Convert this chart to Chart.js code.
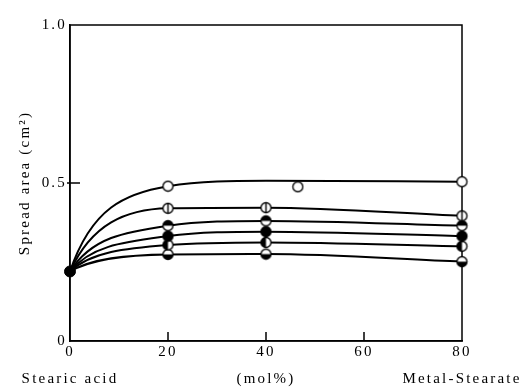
<!DOCTYPE html>
<html>
<head>
<meta charset="utf-8">
<script src="https://cdn.jsdelivr.net/npm/chart.js@4/dist/chart.umd.min.js"></script>
<style>
body { margin: 0; background: #fff; }
#wrap { width: 529px; height: 390px; }
</style>
</head>
<body>
<div id="wrap"><canvas id="spread"></canvas></div>
<script>
// mol% of metal stearate in the mixed film
var molPct = [0, 20, 40, 80]

// spread area (cm2), one list per curve, top to bottom
var areaOpen   = [0.22, 0.49, 0.507, 0.504]
var areaBar    = [0.22, 0.42, 0.422, 0.396]
var areaTop    = [0.22, 0.365, 0.38, 0.365]
var areaFull   = [0.22, 0.332, 0.346, 0.332]
var areaLeft   = [0.22, 0.304, 0.312, 0.300]
var areaBottom = [0.22, 0.274, 0.275, 0.251]

// the lone open circle that sits off the top curve
var strayX = [46.5]
var strayY = [0.488]

var xTickLabels = {0: ['0', 'Stearic acid'], 20: '20', 40: ['40', '(mol%)'], 60: '60', 80: ['80', 'Metal-Stearate']}
var yTickLabels = {0: '0', 0.5: '0.5', 1: '1.0'}

var serif = 'Liberation Serif'
var curveCount = 6

function marker(kind) {
    var c = document.createElement('canvas')
    c.width = 13
    c.height = 13
    var g = c.getContext('2d')
    var r = 5
    g.beginPath()
    g.arc(6.5, 6.5, r, 0, Math.PI * 2)
    g.fillStyle = '#fff'
    g.fill()
    g.fillStyle = '#000'
    g.beginPath()
    if (kind == 'full') g.arc(6.5, 6.5, r, 0, Math.PI * 2)
    if (kind == 'top') g.arc(6.5, 6.5, r, Math.PI, Math.PI * 2)
    if (kind == 'bottom') g.arc(6.5, 6.5, r, 0, Math.PI)
    if (kind == 'left') g.arc(6.5, 6.5, r, Math.PI / 2, Math.PI * 1.5)
    g.fill()
    if (kind == 'bar') g.fillRect(5.8, 1.6, 1.4, 9.8)
    g.beginPath()
    g.arc(6.5, 6.5, r, 0, Math.PI * 2)
    g.lineWidth = 1.3
    g.strokeStyle = '#000'
    g.stroke()
    return c
}

function curve(values, kind, hide) {
    return {
        data: molPct.map((x, i) => ({x: x, y: values[i]})),
        showLine: true,
        borderColor: '#000',
        borderWidth: 2,
        cubicInterpolationMode: 'monotone',
        pointStyle: marker(kind),
        pointRadius: molPct.map(x => (x == 0 || x == hide) ? 0 : 5),
        clip: false
    }
}

// frame round the plot, short inward ticks, and a steeper start for each curve
var frame = {
    id: 'frame',
    beforeDraw(chart) {
        chart.ctx.letterSpacing = '2.2px'
    },
    beforeDatasetsDraw(chart) {
        var a = chart.chartArea, g = chart.ctx
        var xs = chart.scales.x, ys = chart.scales.y
        g.save()
        g.strokeStyle = '#000'
        g.lineWidth = 1.5
        g.strokeRect(a.left, a.top, a.right - a.left, a.bottom - a.top)
        g.beginPath();
        [20, 40, 60].forEach(v => {
            var p = xs.getPixelForValue(v)
            g.moveTo(p, a.bottom)
            g.lineTo(p, a.bottom - 9)
        })
        var q = ys.getPixelForValue(0.5)
        g.moveTo(a.left - 3, q)
        g.lineTo(a.left + 10, q)
        g.stroke()
        g.restore()

        // the curves leave the stearic acid point steeply and level off
        for (var i = 0; i < curveCount; i++) {
            var meta = chart.getDatasetMeta(i)
            meta.dataset.updateControlPoints(a, 'x')
            var p0 = meta.data[0], p1 = meta.data[1]
            p0.cp2x = p0.x + (p1.x - p0.x) * 0.22
            p0.cp2y = p0.y + (p1.y - p0.y) * 0.75
            p1.cp1x = p1.x + (p1.cp1x - p1.x) * 1.3
            p1.cp1y = p1.y + (p1.cp1y - p1.y) * 1.3
        }
    }
}

var datasets = [
    curve(areaOpen, 'open', 40),
    curve(areaBar, 'bar'),
    curve(areaTop, 'top'),
    curve(areaFull, 'full'),
    curve(areaLeft, 'left'),
    curve(areaBottom, 'bottom'),
    {
        data: strayX.map((x, i) => ({x: x, y: strayY[i]})),
        pointStyle: marker('open'),
        pointRadius: 5
    },
    {
        data: [{x: molPct[0], y: areaOpen[0]}],
        pointStyle: 'circle',
        pointRadius: 5.5,
        backgroundColor: '#000',
        borderColor: '#000',
        clip: false
    }
]

new Chart(document.getElementById('spread'), {
    type: 'scatter',
    data: {datasets: datasets},
    plugins: [frame],
    options: {
        responsive: true,
        maintainAspectRatio: false,
        animation: false,
        layout: {padding: 0},
        plugins: {legend: {display: false}, tooltip: {enabled: false}},
        scales: {
            x: {
                type: 'linear',
                min: 0,
                max: 80,
                grid: {display: false, drawTicks: false},
                border: {color: '#000', width: 1.5},
                ticks: {
                    stepSize: 20,
                    autoSkip: false,
                    maxRotation: 0,
                    padding: -2,
                    color: '#000',
                    font: {family: serif, size: 15, lineHeight: 1.8},
                    callback: v => xTickLabels[v]
                },
                afterFit(scale) {
                    scale.height = 49
                    scale.paddingLeft = 0
                    scale.paddingRight = 67
                }
            },
            y: {
                min: 0,
                max: 1,
                grid: {display: false, drawTicks: false},
                border: {color: '#000', width: 1.5},
                ticks: {
                    stepSize: 0.5,
                    padding: 3,
                    color: '#000',
                    font: {family: serif, size: 15},
                    callback: v => yTickLabels[v]
                },
                title: {
                    display: true,
                    text: 'Spread area (cm²)',
                    color: '#000',
                    font: {family: serif, size: 15},
                    padding: {top: 16}
                },
                afterFit(scale) {
                    scale.width = 70
                    scale.paddingTop = 25
                    scale.paddingBottom = 0
                }
            }
        }
    }
})
</script>
</body>
</html>
